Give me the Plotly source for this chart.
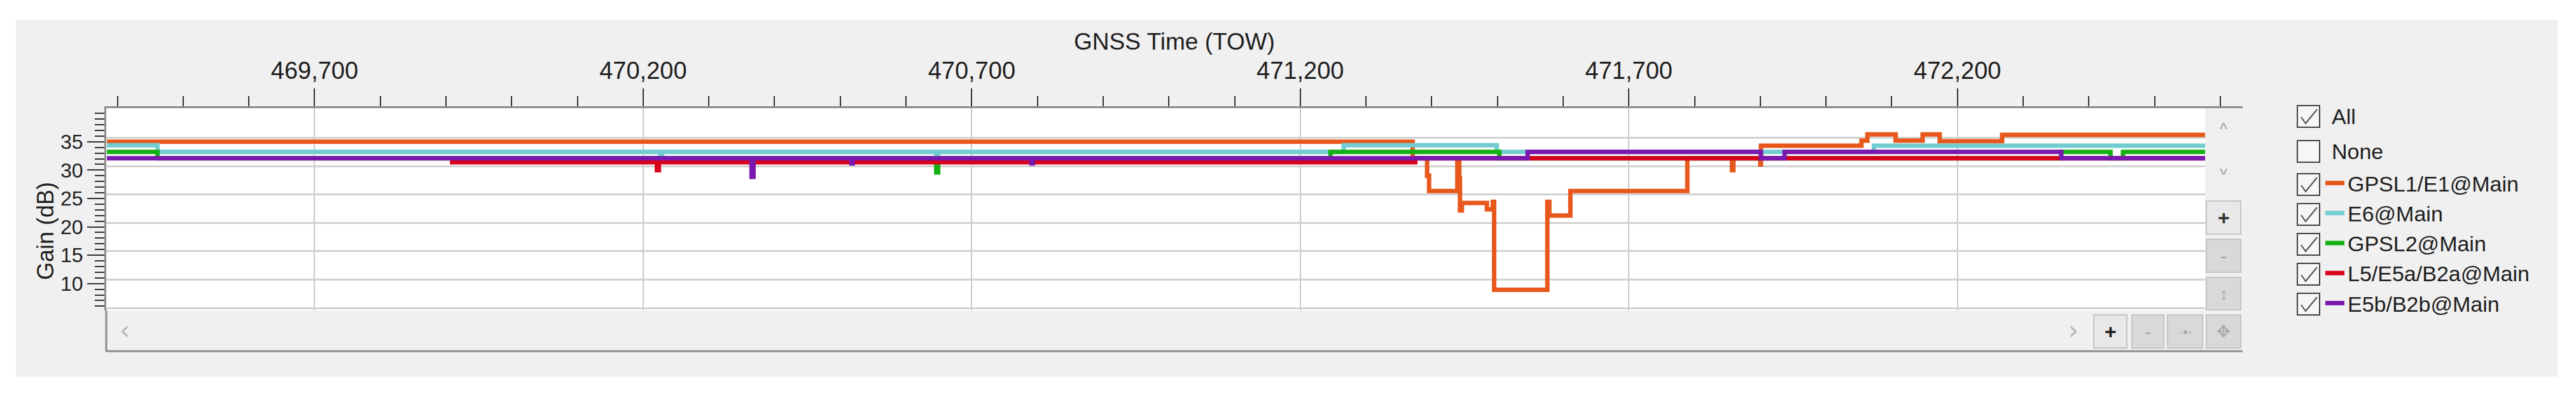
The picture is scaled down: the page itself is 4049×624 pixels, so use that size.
import plotly.graph_objects as go

W, H = 4049, 624

# ---- data (TOW seconds, gain dB), step series ----
series_names = ["GPSL1/E1@Main", "E6@Main", "GPSL2@Main", "L5/E5a/B2a@Main", "E5b/B2b@Main"]
series_colors = ["#e8581c", "#72ccd2", "#14b014", "#d8001a", "#7a18b0"]

tow_l1 = [469384, 471371, 471393, 471396, 471439, 471442, 471443, 471446, 471484, 471493,
          471495, 471576, 471579, 471611, 471789, 471857, 471859, 471900, 471901, 472054,
          472063, 472106, 472147, 472173, 472268, 472577]
gain_l1 = [35.0, 32.1, 29.0, 26.3, 32.0, 28.5, 22.9, 24.2, 23.1, 24.4,
           8.9, 24.4, 22.0, 26.3, 32.1, 30.0, 32.1, 31.0, 34.3, 35.2,
           36.3, 35.2, 36.3, 35.1, 36.2, 36.2]

tow_e6 = [469384, 469461, 470226, 470229, 470646, 470649, 471266, 471499, 472073, 472577]
gain_e6 = [34.4, 33.2, 32.4, 33.2, 32.4, 33.2, 34.4, 33.2, 34.3, 34.3]

tow_l2 = [469384, 469461, 470646, 470649, 471246, 471503, 472358, 472433, 472452, 472577]
gain_l2 = [33.2, 32.1, 29.6, 32.1, 33.2, 32.1, 33.2, 32.1, 33.2, 33.2]

tow_l5 = [469906, 470221, 470224, 471375, 472577]
gain_l5 = [31.4, 30.0, 31.4, 32.1, 32.1]

tow_e5b = [469384, 470365, 470368, 470517, 470519, 470791, 470793, 471546, 471901, 471937,
           472358, 472577]
gain_e5b = [32.1, 28.8, 32.1, 31.2, 32.1, 31.2, 32.1, 33.2, 32.1, 33.2,
            32.1, 32.1]

x_range = [469383, 472634]
y_range = [5.26, 40.92]
y_tickvals = [10, 15, 20, 25, 30, 35]
y_gridvals = [5.7, 10.7, 15.7, 20.7, 25.7, 30.7, 35.7]

FONT = "Liberation Sans, Arial, sans-serif"
TXT = "#1e1e1e"


def px(x):
    return x / W


def py(y):
    return 1 - y / H


fig = go.Figure()
for name, color, tx, gy in zip(series_names, series_colors,
                               [tow_l1, tow_e6, tow_l2, tow_l5, tow_e5b],
                               [gain_l1, gain_e6, gain_l2, gain_l5, gain_e5b]):
    fig.add_trace(go.Scatter(x=tx, y=gy, mode="lines", name=name,
                             line=dict(shape="hv", width=7, color=color)))

# carrier for the offset grid axis
fig.add_trace(go.Scatter(x=[None], y=[None], yaxis="y2", showlegend=False, hoverinfo="skip"))

shapes = []
# window panel and white chart area
shapes.append(dict(type="rect", xref="paper", yref="paper", x0=px(25), x1=px(4020), y0=py(592), y1=py(31),
                   fillcolor="#f0f0f0", line_width=0, layer="below"))
shapes.append(dict(type="rect", xref="paper", yref="paper", x0=px(167), x1=px(3466), y0=py(488), y1=py(170),
                   fillcolor="white", line_width=0, layer="below"))
# vertical scroll strip
shapes.append(dict(type="rect", xref="paper", yref="paper", x0=px(3466), x1=px(3525), y0=py(488), y1=py(171),
                   fillcolor="#f0f0f0", line_width=0, layer="above"))
# frame lines (left extension + bottom)
shapes.append(dict(type="line", xref="paper", yref="paper", x0=px(167), x1=px(167), y0=py(488), y1=py(553),
                   line=dict(color="#8c8c8c", width=3)))
shapes.append(dict(type="line", xref="paper", yref="paper", x0=px(167), x1=px(3525), y0=py(552), y1=py(552),
                   line=dict(color="#8c8c8c", width=3)))

annotations = []


def label_at(x, y, text, size, color, family=FONT, xanchor="center", angle=0):
    annotations.append(dict(x=px(x), y=py(y), xref="paper", yref="paper", text=text, showarrow=False,
                            xanchor=xanchor, yanchor="middle", textangle=angle,
                            font=dict(size=size, color=color, family=family)))


def button(x0, x1, y0, y1, text, fill, fcolor, size=30):
    shapes.append(dict(type="rect", xref="paper", yref="paper", x0=px(x0), x1=px(x1), y0=py(y1), y1=py(y0),
                       fillcolor=fill, line=dict(color="#c4c4c4", width=2), layer="above"))
    label_at((x0 + x1) / 2, (y0 + y1) / 2, text, size, fcolor)


button(3468, 3522, 316, 368, "<b>+</b>", "#e8e8e8", "#303030", 32)
button(3468, 3522, 376, 428, "-", "#d9d9d9", "#a0a0a0")
button(3468, 3522, 436, 487, "↕", "#d9d9d9", "#a8a8a8", 26)
button(3291, 3343, 495, 547, "<b>+</b>", "#e8e8e8", "#202020", 32)
button(3351, 3401, 495, 547, "-", "#d9d9d9", "#a0a0a0")
button(3407, 3462, 495, 547, "·•·", "#d9d9d9", "#a8a8a8", 22)
button(3468, 3522, 495, 547, "✥", "#d9d9d9", "#a8a8a8", 26)

for text, xx, yy in [("‹", 196, 519), ("›", 3259, 519), ("˄", 3495, 212), ("˅", 3495, 284)]:
    label_at(xx, yy, text, 40, "#b4b4b4", family="DejaVu Sans")

# y axis title
label_at(71, 363, "Gain (dB)", 36, TXT, angle=-90)

# checkbox column: All / None + one per series
box_rows = [(183, True, "All"), (238, False, "None")]
legend_rows = [295, 342, 389, 436, 483]
for yc in legend_rows:
    box_rows.append((yc - 5, True, None))

for yc, checked, text in box_rows:
    x0, x1 = 3611, 3646
    y0, y1 = yc - 17, yc + 17
    shapes.append(dict(type="rect", xref="paper", yref="paper", x0=px(x0), x1=px(x1), y0=py(y1), y1=py(y0),
                       fillcolor="#f6f6f6", line=dict(color="#404040", width=2)))
    if checked:
        path = "M{},{} L{},{} L{},{}".format(px(x0 + 6), py(yc + 1), px(x0 + 13), py(y1 - 6),
                                             px(x0 + 31), py(y0 + 6))
        shapes.append(dict(type="path", xref="paper", yref="paper", path=path,
                           line=dict(color="#505050", width=2)))
    if text:
        label_at(3663, yc, text, 34, TXT, xanchor="left")

fig.update_layout(
    width=W, height=H, autosize=False,
    margin=dict(l=0, r=0, t=0, b=0),
    paper_bgcolor="white", plot_bgcolor="rgba(0,0,0,0)",
    font=dict(family=FONT, color=TXT),
    showlegend=True,
    legend=dict(x=px(3650), xanchor="left", y=py(259), yanchor="top", bgcolor="rgba(0,0,0,0)",
                font=dict(size=34, color=TXT, family=FONT), borderwidth=0),
    xaxis=dict(domain=[px(167), px(3525)], range=x_range, side="top",
               tickmode="linear", tick0=469700, dtick=500, tickformat=",d",
               ticks="outside", ticklen=28, tickwidth=2, tickcolor="#303030",
               tickfont=dict(size=38, color=TXT),
               showline=True, linecolor="#8c8c8c", linewidth=3,
               showgrid=True, gridcolor="#c8c8c8", gridwidth=2, zeroline=False,
               minor=dict(dtick=100, tick0=469700, ticks="outside", ticklen=16, tickwidth=2,
                          tickcolor="#303030", showgrid=False),
               title=dict(text="GNSS Time (TOW)", font=dict(size=37, color=TXT), standoff=0)),
    yaxis=dict(domain=[py(488), py(170)], range=y_range,
               tickmode="array", tickvals=y_tickvals,
               ticks="outside", ticklen=27, tickwidth=2, tickcolor="#303030",
               tickfont=dict(size=32, color=TXT),
               showline=True, linecolor="#8c8c8c", linewidth=3,
               showgrid=False, zeroline=False,
               minor=dict(dtick=1, ticks="outside", ticklen=15, tickwidth=2, tickcolor="#303030",
                          showgrid=False)),
    yaxis2=dict(overlaying="y", range=y_range, tickmode="array", tickvals=y_gridvals,
                showticklabels=False, ticks="", showline=False, showgrid=True,
                gridcolor="#d2d2d2", gridwidth=3, zeroline=False),
    shapes=shapes,
    annotations=annotations,
)

# page body default margin would shift the figure by 8px
fig.write_html("out.html", config={"displayModeBar": False},
               post_script="document.body.style.margin='0';")
